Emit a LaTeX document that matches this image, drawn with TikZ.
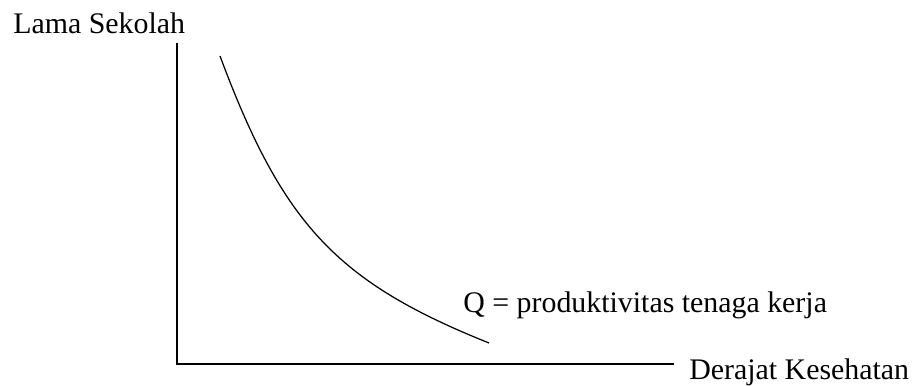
\documentclass[tikz,border=0pt]{standalone}
\usepackage{fontspec}
\setmainfont{Liberation Serif}
\usetikzlibrary{positioning}

\begin{document}
\begin{tikzpicture}[
	lbl/.style = {inner sep=0pt, anchor=base west, font=\fontsize{17}{20}\selectfont},
	axis/.style = {line width=0.8pt},
	curve/.style = {line width=0.7pt}
	]
	\useasboundingbox (0,0) rectangle (18.3,7.72);
	
	%Axes
	\coordinate (ytop)		at	(3.54, 6.86);
	\coordinate (origin)	at	(3.54, 0.44);
	\coordinate (xend)		at	(13.48, 0.44);
	\draw[axis]	(ytop) -- (origin) -- (xend);
	
	%Labels
	\node[lbl]	(ylab)	at	(0.26, 7.04)	{Lama Sekolah};
	\node[lbl]	(xlab)	at	(13.78, 0.12)	{Derajat Kesehatan};
	\node[lbl]	(qlab)	at	(9.26, 1.46)	{Q = produktivitas tenaga kerja};
	
	%Curve
	\coordinate (cstart)	at	(4.40, 6.60);
	\coordinate (cend)		at	(9.78, 0.86);
	\draw[curve] (cstart) .. controls (5.66, 3.22) and (6.74, 2.08) .. (cend);
	
\end{tikzpicture}
\end{document}
